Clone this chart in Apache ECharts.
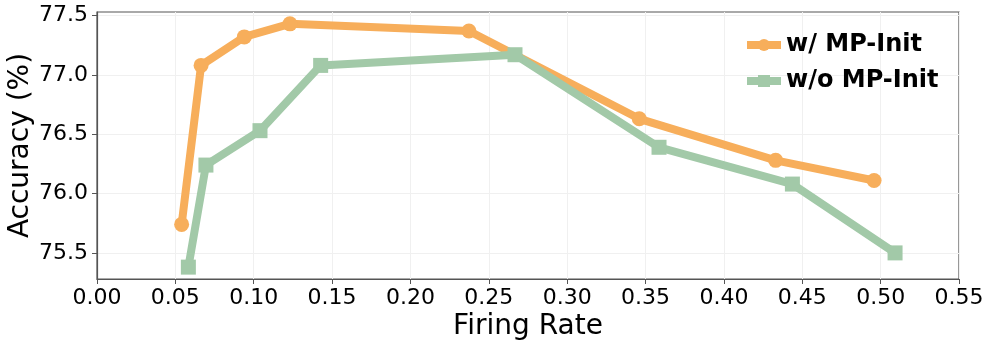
<!DOCTYPE html>
<html>
<head>
<meta charset="utf-8">
<script src="https://cdn.jsdelivr.net/npm/echarts@6/dist/echarts.min.js"></script>
<style>
  html, body { margin: 0; padding: 0; background: #fff; }
  #box { width: 992px; height: 348px; }
</style>
</head>
<body>
<div id="box"></div>
<script>
// firing rate vs accuracy
const withInitX = [0.054, 0.0664, 0.094, 0.1231, 0.2373, 0.346, 0.433, 0.4958];
const withInitY = [75.74, 77.08, 77.32, 77.43, 77.37, 76.63, 76.28, 76.11];
const withoutInitX = [0.0583, 0.0695, 0.104, 0.1427, 0.2667, 0.3586, 0.4437, 0.5092];
const withoutInitY = [75.38, 76.24, 76.53, 77.08, 77.17, 76.39, 76.08, 75.5];
const yTicks = [75.5, 76.0, 76.5, 77.0, 77.5];
const seriesNames = ["w/ MP-Init", "w/o MP-Init"];

const font = "DejaVu Sans";
const orange = "#f7ae5b";
const green = "#a2c9a8";

function pairs(xs, ys) {
  return xs.map((x, i) => [x, ys[i]]);
}

var myChart = echarts.init(document.getElementById("box"));

myChart.setOption({
  animation: false,
  grid: {
    left: 97,
    right: 33,
    top: 12,
    bottom: 69,
    outerBoundsMode: "none",
    containLabel: false,
    show: true,
    borderColor: "#555",
    borderWidth: 1.2,
  },
  legend: {
    orient: "vertical",
    left: 738,
    top: 28,
    itemWidth: 34,
    itemHeight: 15,
    itemGap: 12,
    lineStyle: { width: 8 },
    textStyle: {
      fontFamily: font,
      fontWeight: "bold",
      fontSize: 24,
      lineHeight: 24,
      color: "#000",
    },
  },
  xAxis: {
    type: "value",
    min: 0,
    max: 0.55,
    interval: 0.05,
    name: "Firing Rate",
    nameLocation: "middle",
    nameGap: 34,
    nameMoveOverlap: false,
    nameTextStyle: { fontFamily: font, fontSize: 28, color: "#000" },
    axisLine: { lineStyle: { color: "#555", width: 1.2 } },
    axisTick: { show: true, length: 5, lineStyle: { color: "#555" } },
    axisLabel: {
      fontFamily: font,
      fontSize: 22,
      color: "#000",
      margin: 8,
      formatter: (v) => v.toFixed(2),
    },
    splitLine: { show: true, lineStyle: { color: "#f0f0f0", width: 1 } },
  },
  yAxis: {
    type: "value",
    min: 75.28,
    max: 77.53,
    name: "Accuracy (%)",
    nameLocation: "middle",
    nameGap: 62,
    nameMoveOverlap: false,
    nameTextStyle: { fontFamily: font, fontSize: 28, color: "#000" },
    axisLine: { show: true, lineStyle: { color: "#555", width: 1.2 } },
    axisTick: {
      show: true,
      length: 5,
      customValues: yTicks,
      lineStyle: { color: "#555" },
    },
    axisLabel: {
      fontFamily: font,
      fontSize: 22,
      color: "#000",
      margin: 9,
      customValues: yTicks,
      formatter: (v) => v.toFixed(1),
    },
    splitLine: { show: true, lineStyle: { color: "#f0f0f0", width: 1 } },
  },
  series: [
    {
      name: seriesNames[0],
      type: "line",
      data: pairs(withInitX, withInitY),
      symbol: "circle",
      symbolSize: 15,
      color: orange,
      lineStyle: { width: 8, color: orange },
      itemStyle: { color: orange },
      z: 2,
    },
    {
      name: seriesNames[1],
      type: "line",
      data: pairs(withoutInitX, withoutInitY),
      symbol: "rect",
      symbolSize: 15,
      color: green,
      lineStyle: { width: 8, color: green },
      itemStyle: { color: green },
      z: 3,
    },
  ],
});
</script>
</body>
</html>
